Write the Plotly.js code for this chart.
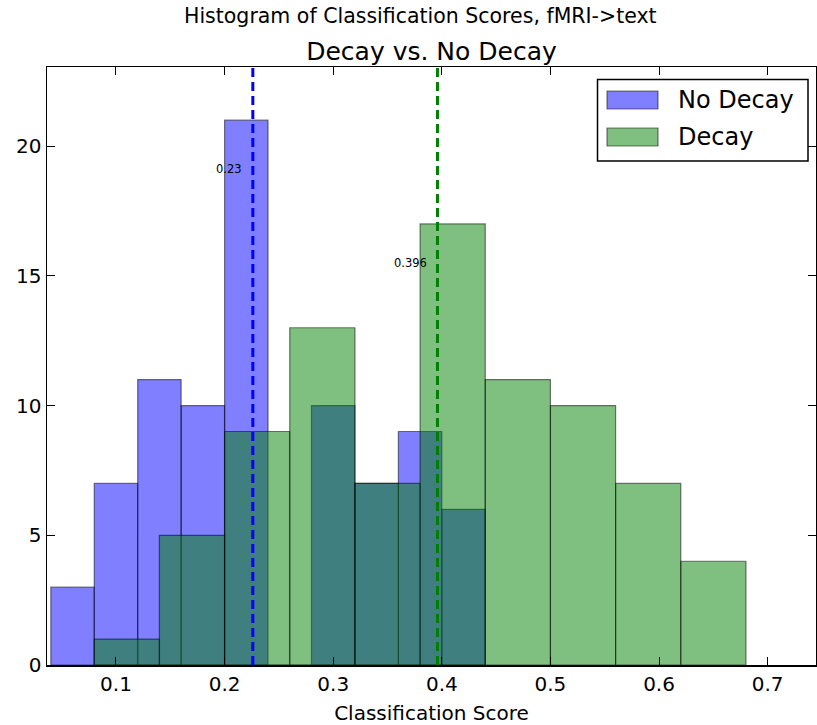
<!DOCTYPE html>
<html>
<head>
<meta charset="utf-8">
<script src="https://cdn.plot.ly/plotly-3.0.1.min.js"></script>
<style>html,body{margin:0;padding:0;background:#fff;}#chart{width:817px;height:725px;}</style>
</head>
<body>
<div id="chart"></div>
<script>
// Data
const seriesNames = ["No Decay", "Decay"];
const noDecayEdges = [0.04, 0.08, 0.12, 0.16, 0.20, 0.24, 0.28, 0.32, 0.36, 0.40, 0.44];
const noDecayCounts = [3, 7, 11, 10, 21, 0, 10, 7, 9, 6];
const decayEdges = [0.08, 0.14, 0.20, 0.26, 0.32, 0.38, 0.44, 0.50, 0.56, 0.62, 0.68];
const decayCounts = [1, 5, 9, 13, 7, 17, 11, 10, 7, 4];
const meanValues = [0.226, 0.396];
const meanLabels = ["0.23", "0.396"];
const meanLabelY = [19.1, 15.5];
const xTicks = [0.1, 0.2, 0.3, 0.4, 0.5, 0.6, 0.7];
const yTicks = [0, 5, 10, 15, 20];

function centers(edges){ const c=[]; for(let i=0;i<edges.length-1;i++) c.push((edges[i]+edges[i+1])/2); return c; }
function widths(edges){ const w=[]; for(let i=0;i<edges.length-1;i++) w.push(edges[i+1]-edges[i]); return w; }

const FONT = "DejaVu Sans, Verdana, sans-serif";
const lineColors = ["#0000ff", "#008000"];
const fillColors = ["rgba(0,0,255,0.5)", "rgba(0,128,0,0.5)"];
const edgeColor = "rgba(0,0,0,0.5)";

// plot area in pixels (for placing the legend box)
const M = {l:47, r:1, t:67, b:60};
const PW = 817 - M.l - M.r, PH = 725 - M.t - M.b;
const px = v => (v - M.l) / PW;
const py = v => (725 - M.b - v) / PH;

const traces = [
  {type:"bar", name:seriesNames[0], x:centers(noDecayEdges), y:noDecayCounts, width:widths(noDecayEdges),
   marker:{color:fillColors[0], line:{color:edgeColor, width:1.2}}, showlegend:false},
  {type:"bar", name:seriesNames[1], x:centers(decayEdges), y:decayCounts, width:widths(decayEdges),
   marker:{color:fillColors[1], line:{color:edgeColor, width:1.2}}, showlegend:false}
];

const shapes = meanValues.map((m,i)=>({type:"line", xref:"x", yref:"y domain", x0:m, x1:m, y0:0, y1:1,
  line:{color:lineColors[i], width:3, dash:"9px,5px"}}));

const annotations = meanValues.map((m,i)=>({x:m-0.008, y:meanLabelY[i], xref:"x", yref:"y", text:meanLabels[i],
  showarrow:false, xanchor:"right", yanchor:"middle", font:{family:FONT, size:11.5, color:"#000"}}));
annotations.push({xref:"paper", yref:"paper", x:px(420.5), y:py(16), text:"Histogram of Classification Scores, fMRI->text",
  showarrow:false, xanchor:"center", yanchor:"middle", font:{family:FONT, size:20.5, color:"#000"}});

// legend drawn like the reference (wide patches in a framed box)
shapes.push({type:"rect", xref:"paper", yref:"paper", x0:px(597.5), x1:px(808), y0:py(79.5), y1:py(161),
  fillcolor:"#fff", line:{color:"#000", width:1.5}, layer:"above"});
const legendRows = [100, 137];
seriesNames.forEach((n,i)=>{
  shapes.push({type:"rect", xref:"paper", yref:"paper", x0:px(607), x1:px(658), y0:py(legendRows[i]-9), y1:py(legendRows[i]+9),
    fillcolor:fillColors[i], line:{color:edgeColor, width:1.2}, layer:"above"});
  annotations.push({xref:"paper", yref:"paper", x:px(676), y:py(legendRows[i]), text:n, showarrow:false,
    xanchor:"left", yanchor:"middle", font:{family:FONT, size:24, color:"#000"}});
});

const layout = {
  width:817, height:725,
  margin:M,
  paper_bgcolor:"#fff", plot_bgcolor:"#fff",
  barmode:"overlay", bargap:0,
  font:{family:FONT, color:"#000"},
  title:{text:"Decay vs. No Decay", font:{family:FONT, size:25, color:"#000"}, x:0.5, xref:"paper", xanchor:"center", y:1, yref:"paper", yanchor:"bottom", pad:{b:7}},
  xaxis:{range:[0.0365, 0.7445], tickvals:xTicks, ticktext:xTicks.map(v=>v.toFixed(1)), ticks:"inside", ticklen:8, tickwidth:1, tickcolor:"#000",
    showline:true, linecolor:"#000", linewidth:1.5, mirror:"allticks", showgrid:false, zeroline:false,
    tickfont:{family:FONT, size:20}, title:{text:"Classification Score", font:{family:FONT, size:20}, standoff:11}},
  yaxis:{range:[0, 23.05], tickvals:yTicks, ticks:"inside", ticklen:8, tickwidth:1, tickcolor:"#000",
    showline:true, linecolor:"#000", linewidth:1.5, mirror:"allticks", showgrid:false, zeroline:false,
    tickfont:{family:FONT, size:20}},
  showlegend:false,
  shapes:shapes, annotations:annotations
};

Plotly.newPlot("chart", traces, layout, {displayModeBar:false, staticPlot:true});
</script>
</body>
</html>
